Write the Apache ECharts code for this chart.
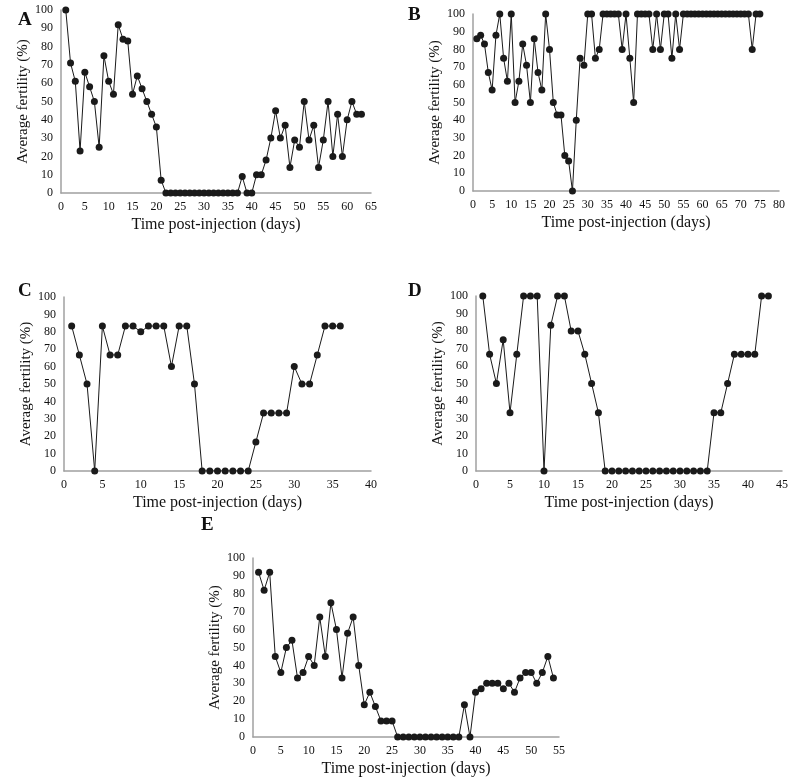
<!DOCTYPE html>
<html><head><meta charset="utf-8">
<script src="https://cdn.jsdelivr.net/npm/echarts@6/dist/echarts.min.js"></script>
<style>html,body{margin:0;padding:0;background:#fff}#c{width:791px;height:779px}</style>
</head><body><div id="c"></div>
<script>
// Panel A: days 1..63
const daysA = Array.from({length:63},(_,i)=>i+1);
const valsA = [100,71,61,23,66,58,50,25,75,61,54,92,84,83,54,64,57,50,43,36,7,
 0,0,0,0,0,0,0,0,0,0,0,0,0,0,0,0,
 9,0,0,10,10,18,30,45,30,37,14,29,25,50,29,37,14,29,50,20,43,20,40,50,43,43];
// Panel B: days 1..75
const daysB = Array.from({length:75},(_,i)=>i+1);
const valsB = [86,88,83,67,57,88,100,75,62,100,50,62,83,71,50,86,67,57,100,80,50,43,43,20,17,0,40,75,71,100,
 100,75,80,100,100,100,100,100,80,100,75,50,100,100,100,100,80,100,80,100,100,75,100,80,
 100,100,100,100,100,100,100,100,100,100,100,100,100,100,100,100,100,100,80,100,100];
// Panel C: days 1..36
const daysC = Array.from({length:36},(_,i)=>i+1);
const valsC = [83.3,66.7,50,0,83.3,66.7,66.7,83.3,83.3,80,83.3,83.3,83.3,60,83.3,83.3,50,
 0,0,0,0,0,0,0,16.7,33.3,33.3,33.3,33.3,60,50,50,66.7,83.3,83.3,83.3];
// Panel D: days 1..43
const daysD = Array.from({length:43},(_,i)=>i+1);
const valsD = [100,66.7,50,75,33.3,66.7,100,100,100,0,83.3,100,100,80,80,66.7,50,33.3,
 0,0,0,0,0,0,0,0,0,0,0,0,0,0,0,0,33.3,33.3,50,66.7,66.7,66.7,66.7,100,100];
// Panel E: days 1..54
const daysE = Array.from({length:54},(_,i)=>i+1);
const valsE = [92,82,92,45,36,50,54,33,36,45,40,67,45,75,60,33,58,67,40,18,25,17,9,9,9,
 0,0,0,0,0,0,0,0,0,0,0,0,18,0,25,27,30,30,30,27,30,25,33,36,36,30,36,45,33];

const yTicks = [0,10,20,30,40,50,60,70,80,90,100];
const xMax = {A:65,B:80,C:40,D:45,E:55};

const font = '"Liberation Serif", "Times New Roman", serif';
const panels = [
  {k:'A', days:daysA, vals:valsA, g:{left:61, top:10, width:310, height:183}, lx:18, ly:21},
  {k:'B', days:daysB, vals:valsB, g:{left:473, top:14, width:306, height:177}, lx:408, ly:16},
  {k:'C', days:daysC, vals:valsC, g:{left:64, top:297, width:307, height:174}, lx:18, ly:292},
  {k:'D', days:daysD, vals:valsD, g:{left:476, top:296, width:309, height:175}, lx:408, ly:292},
  {k:'E', days:daysE, vals:valsE, g:{left:253, top:558, width:306, height:179}, lx:201, ly:526}
];
const grid=[], xAxis=[], yAxis=[], series=[], graphic=[];
panels.forEach((p,i)=>{
  grid.push(Object.assign({containLabel:false}, p.g));
  xAxis.push({type:'value', gridIndex:i, min:0, max:xMax[p.k], interval:5,
    name:'Time post-injection (days)', nameLocation:'middle', nameGap:24,
    nameTextStyle:{fontFamily:font, fontSize:16, color:'#111'},
    axisLine:{lineStyle:{color:'#a0a0a0', width:1.5}}, axisTick:{show:false},
    axisLabel:{fontFamily:font, fontSize:12, color:'#111', margin:8},
    splitLine:{show:false}});
  yAxis.push({type:'value', gridIndex:i, min:0, max:100, interval:10,
    name:'Average fertility (%)', nameLocation:'middle', nameGap:30, nameRotate:90,
    nameTextStyle:{fontFamily:font, fontSize:15, color:'#111'},
    axisLine:{show:true, lineStyle:{color:'#a0a0a0', width:1.5}}, axisTick:{show:false},
    axisLabel:{fontFamily:font, fontSize:12, color:'#111', margin:8},
    splitLine:{show:false}});
  series.push({type:'line', xAxisIndex:i, yAxisIndex:i,
    data:p.days.map((d,j)=>[d,p.vals[j]]),
    symbol:'circle', symbolSize:7, showAllSymbol:true,
    lineStyle:{color:'#1a1a1a', width:1}, itemStyle:{color:'#1a1a1a'}, animation:false});
  graphic.push({type:'text', left:p.lx, top:p.ly-10, style:{text:p.k, font:'bold 19px '+font, fill:'#111'}});
});
const chart = echarts.init(document.getElementById('c'), null, {renderer:'canvas'});
chart.setOption({animation:false, backgroundColor:'#fff', grid, xAxis, yAxis, series, graphic});
</script></body></html>
